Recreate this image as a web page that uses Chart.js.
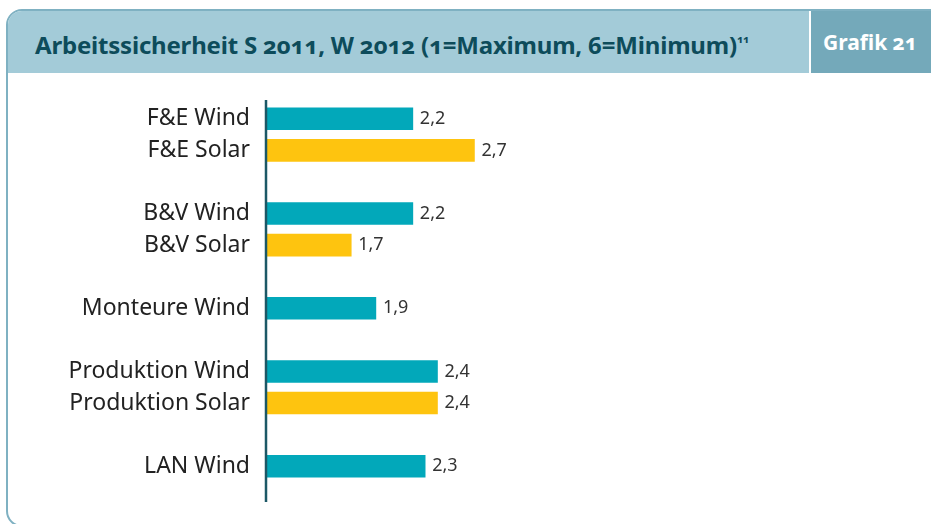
<!DOCTYPE html>
<html>
<head>
<meta charset="utf-8">
<script src="https://cdn.jsdelivr.net/npm/chart.js@4/dist/chart.umd.min.js"></script>
<style>
  html, body { margin: 0; padding: 0; background: #fff; }
  #wrap { position: relative; width: 931px; height: 524px; overflow: hidden; }
  #panel {
    position: absolute; left: 6px; top: 9px; width: 960px; height: 518px;
    border: 2px solid #7fb1c2; border-radius: 16px; box-sizing: border-box; overflow: hidden;
  }
  #head {
    position: absolute; left: 0; top: 0; width: 100%; height: 62px; background: #a3cbd8;
  }
  #title {
    position: absolute; left: 27px; top: 17px; font-family: "Noto Sans", sans-serif;
    font-weight: bold; font-size: 24px; color: #0d4c5b; white-space: nowrap;
    font-variant-numeric: oldstyle-nums; letter-spacing: -0.2px;
  }
  #title sup { font-size: 11px; vertical-align: top; position: relative; top: 3px; }
  #grafik {
    position: absolute; left: 801px; top: 0; width: 200px; height: 62px; background: #74a9ba;
    border-left: 2px solid #fff;
  }
  .grafik-text {
    position: absolute; left: 12px; top: 17px; font-family: "Noto Sans", sans-serif;
    font-weight: bold; font-size: 21px; color: #fff; white-space: nowrap;
    font-variant-numeric: oldstyle-nums;
  }
  canvas { position: absolute; left: 0; top: 0; }
</style>
</head>
<body>
<div id="wrap">
  <div id="panel">
    <div id="head">
      <div id="title">Arbeitssicherheit S 2011, W 2012 (1=Maximum, 6=Minimum)<sup>11</sup></div>
      <div id="grafik"><div class="grafik-text">Grafik 21</div></div>
    </div>
  </div>
  <canvas id="chart" width="931" height="524"></canvas>
</div>
<script>
// categories (empty strings are the gaps between groups)
const categories = ['F&E Wind', 'F&E Solar', '', 'B&V Wind', 'B&V Solar', '', 'Monteure Wind', '', 'Produktion Wind', 'Produktion Solar', '', 'LAN Wind'];
const windValues = [2.2, null, null, 2.2, null, null, 1.9, null, 2.4, null, null, 2.3];
const solarValues = [null, 2.7, null, null, 1.7, null, null, null, null, 2.4, null, null];
const scaleMin = 1;
const scaleMax = 6;

const WIND = '#02a8ba';
const SOLAR = '#fec40f';

const axisLine = {
  id: 'axisLine',
  afterDatasetsDraw(chart) {
    const { ctx, chartArea } = chart;
    ctx.save();
    ctx.strokeStyle = '#1c5866';
    ctx.lineWidth = 2.5;
    ctx.beginPath();
    ctx.moveTo(chartArea.left + 1, chartArea.top - 3);
    ctx.lineTo(chartArea.left + 1, chartArea.bottom + 20);
    ctx.stroke();
    ctx.restore();
  }
};

const valueLabels = {
  id: 'valueLabels',
  afterDatasetsDraw(chart) {
    const { ctx } = chart;
    ctx.save();
    ctx.font = '18px "Noto Sans", sans-serif';
    ctx.fillStyle = '#333';
    ctx.textAlign = 'left';
    ctx.textBaseline = 'middle';
    chart.data.datasets.forEach((ds, i) => {
      chart.getDatasetMeta(i).data.forEach((bar, j) => {
        const v = ds.data[j];
        if (v == null) return;
        ctx.fillText(v.toFixed(1).replace('.', ','), bar.x + 7, bar.y);
      });
    });
    ctx.restore();
  }
};

new Chart(document.getElementById('chart'), {
  type: 'bar',
  data: {
    labels: categories,
    datasets: [
      { label: 'Wind', data: windValues, backgroundColor: WIND, barThickness: 22, grouped: false, base: scaleMin },
      { label: 'Solar', data: solarValues, backgroundColor: SOLAR, barThickness: 22, grouped: false, base: scaleMin }
    ]
  },
  options: {
    indexAxis: 'y',
    responsive: false,
    animation: false,
    layout: { padding: { top: 103, bottom: 42, right: 50, left: 0 } },
    plugins: { legend: { display: false }, tooltip: { enabled: false } },
    scales: {
      x: { display: false, min: scaleMin, max: scaleMax },
      y: {
        afterFit(scale) { scale.width = 265; },
        grid: { display: false, drawTicks: false },
        border: { display: false },
        ticks: {
          padding: 15,
          color: '#222',
          font: { family: '"Noto Sans", sans-serif', size: 23 }
        }
      }
    }
  },
  plugins: [axisLine, valueLabels]
});
</script>
</body>
</html>
